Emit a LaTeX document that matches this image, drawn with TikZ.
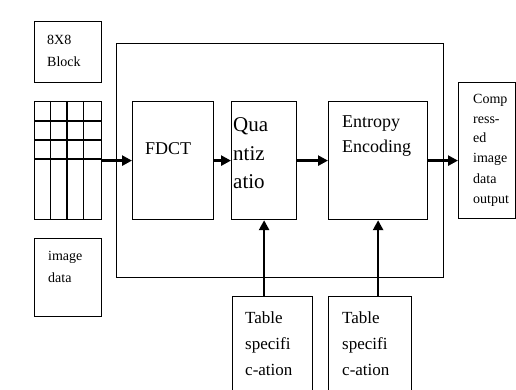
\documentclass[tikz,border=0pt]{standalone}
\usepackage{fontspec}
\setmainfont{Liberation Serif}
\usetikzlibrary{arrows.meta}
\begin{document}
\begin{tikzpicture}[x=1pt,y=-1pt,
    box/.style={draw,line width=1.2pt,inner sep=0pt,anchor=north west},
    lbl/.style={anchor=base west,inner sep=0pt,align=left},
    flow/.style={line width=2.6pt,-{Triangle[length=10pt,width=10pt]}}]
        \useasboundingbox[fill=white] (0,0) rectangle (516,390);

        % input side
        \node[box,minimum width=67,minimum height=61] (block) at (34,21) {};
        \node[lbl,font=\fontsize{14}{22}\selectfont] (blocktxt) at (47,67) {8X8\\Block};

        \node[box,minimum width=67,minimum height=118] (grid) at (34,101) {};
        \foreach \gx in {50.5,67,83.5}
            \draw[line width=1.2pt] (\gx,101) -- (\gx,219);
        \foreach \gy in {121,140,159}
            \draw[line width=1.2pt] (34,\gy) -- (101,\gy);

        \node[box,minimum width=67,minimum height=78] (imgdata) at (34,238) {};
        \node[lbl,font=\fontsize{14}{22}\selectfont] (imgtxt) at (48,282) {image\\data};

        % encoder
        \node[box,minimum width=327,minimum height=234] (frame) at (116,43) {};

        \node[box,minimum width=81,minimum height=118] (fdct) at (132,101) {};
        \node[lbl,font=\fontsize{18}{22}\selectfont] (fdcttxt) at (145,155) {FDCT};

        \node[box,minimum width=65,minimum height=118] (quant) at (231,101) {};
        \node[lbl,font=\fontsize{21}{28}\selectfont] (quanttxt) at (233,188) {Qua\\ntiz\\atio};

        \node[box,minimum width=99,minimum height=118] (entropy) at (328,101) {};
        \node[lbl,font=\fontsize{18}{25}\selectfont] (entropytxt) at (342,153) {Entropy\\Encoding};

        % output
        \node[box,minimum width=57,minimum height=136] (output) at (458,82) {};
        \node[lbl,font=\fontsize{14}{20}\selectfont] (outtxt) at (473,203) {Comp\\ress-\\ed\\image\\data\\output};

        % tables
        \node[box,minimum width=80,minimum height=110] (tab1) at (232,296) {};
        \node[lbl,font=\fontsize{17}{26}\selectfont] (tab1txt) at (245,375) {Table\\specifi\\c-ation};

        \node[box,minimum width=83,minimum height=110] (tab2) at (328,296) {};
        \node[lbl,font=\fontsize{17}{26}\selectfont] (tab2txt) at (342,375) {Table\\specifi\\c-ation};

        \draw[flow] (grid.east |- fdct.west) -- (fdct.west);
        \draw[flow] (fdct.east) -- (quant.west);
        \draw[flow] (quant.east) -- (entropy.west);
        \draw[flow] (entropy.east) -- (output.west |- entropy.east);
        \draw[flow] (quant.south |- tab1.north) -- (quant.south);
        \draw[flow] (entropy.south |- tab2.north) -- (entropy.south);

    \end{tikzpicture}
\end{document}
